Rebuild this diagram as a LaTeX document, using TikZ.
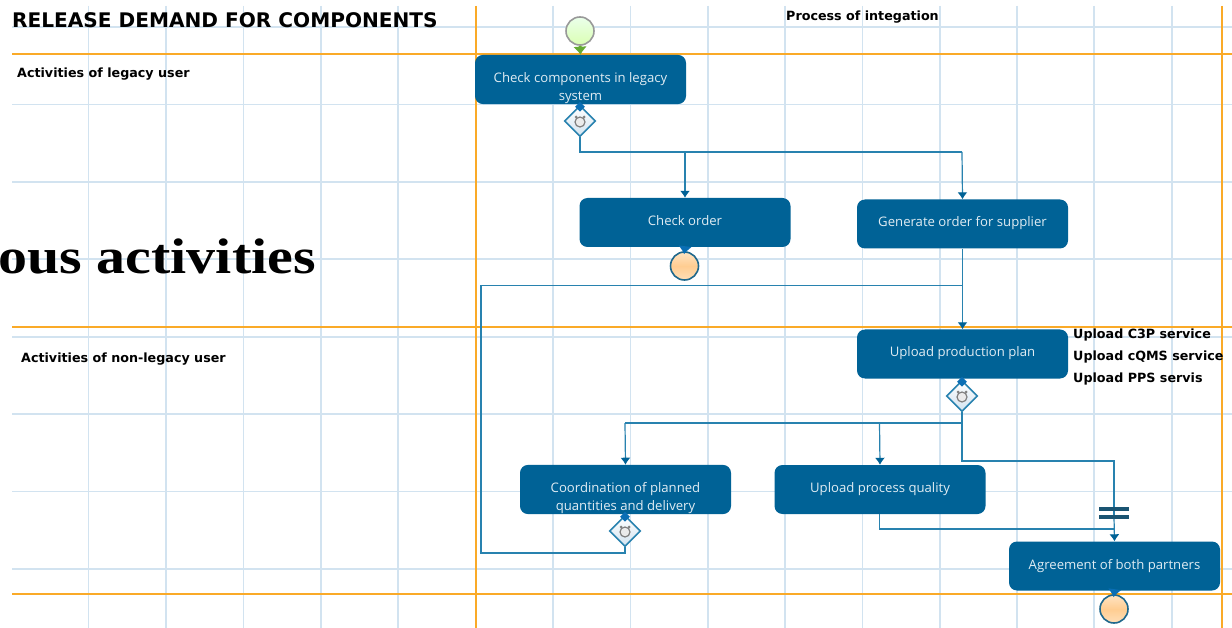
\documentclass[tikz,border=0pt]{standalone}
\usepackage{fontspec}
\usepackage{tikz}
\usetikzlibrary{shapes.geometric,arrows.meta}
\setmainfont{Open Sans}
\newfontfamily\labelfont{DejaVu Sans}
\newfontfamily\slidefont[FakeStretch=1.16]{Liberation Serif}
\definecolor{boxblue}{RGB}{0,98,150}
\definecolor{edgeblue}{RGB}{40,130,175}
\definecolor{tipblue}{RGB}{10,110,180}
\definecolor{gridblue}{RGB}{210,227,240}
\definecolor{laneorange}{RGB}{250,170,40}
\definecolor{startgreen}{RGB}{100,170,50}
\definecolor{endorange}{RGB}{255,205,145}
\begin{document}
\begin{tikzpicture}[x=1pt, y=-1pt,
		box_style/.style={rectangle,rounded corners=8pt,fill=boxblue,text=white!88!boxblue,minimum width=211pt,minimum height=49pt,inner sep=0pt,font=\fontsize{13.15}{18}\selectfont,align=center},
		single_style/.style={box_style,text height=10pt,text depth=4pt},
		edge_style/.style={draw=edgeblue,line width=1.2pt},
		arrow_style/.style={edge_style,-{Latex[width=10pt,length=7pt,fill=boxblue,color=boxblue]}},
		tip_style/.style={draw=tipblue,line width=2pt,-{Latex[width=14pt,length=8pt]},shorten >=-3pt},
		start_style/.style={circle,draw=black!40,line width=1.6pt,top color=green!8!white,bottom color=green!30!lime!30!white,minimum size=28pt,inner sep=0pt},
		end_style/.style={circle,draw=edgeblue!80!black,line width=1.6pt,top color=endorange!55!white,bottom color=endorange!65!white,middle color=endorange,minimum size=28pt,inner sep=0pt},
		decision_style/.style={diamond,aspect=1,draw=edgeblue,line width=1.6pt,top color=white,bottom color=gridblue,minimum size=31pt,inner sep=0pt},
		marker_style/.style={diamond,aspect=1,fill=tipblue,minimum size=10pt,inner sep=0pt},
		icon_style/.style={circle,draw=black!50,fill=black!8,line width=1.2pt,minimum size=10pt,inner sep=0pt},
		ear_style/.style={circle,fill=black!50,minimum size=3pt,inner sep=0pt},
		bar_style/.style={rectangle,fill=edgeblue!65!black,minimum width=30pt,minimum height=3.5pt,inner sep=0pt},
		label_style/.style={anchor=west,inner sep=0pt,font=\labelfont\bfseries\fontsize{12.7}{14}\selectfont}]

		\useasboundingbox (0,0) rectangle (1232,628);
		\fill[white] (0,0) rectangle (1232,628);

		% grid
		\foreach \gx in {88.5,166,243.5,321,398,553,630.5,708,785,862.5,940,1017,1094,1172}
			\draw[gridblue,line width=1.2pt] (\gx,6) -- (\gx,628);
		\foreach \gy in {27,104.5,182,259,337,414,491.5,569}
			\draw[gridblue,line width=1.2pt] (12,\gy) -- (1232,\gy);

		% lanes
		\draw[laneorange,line width=1.3pt] (12,54) -- (1232,54);
		\draw[laneorange,line width=1.3pt] (12,327) -- (1232,327);
		\draw[laneorange,line width=1.3pt] (12,594) -- (1232,594);
		\draw[laneorange,line width=1.3pt] (476,6) -- (476,628);
		\draw[laneorange,line width=1.3pt] (1222,6) -- (1222,628);

		% texts
		\node[label_style,font=\labelfont\bfseries\fontsize{20.1}{22}\selectfont] (title) at (12,20) {RELEASE DEMAND FOR COMPONENTS};
		\node[label_style] (process) at (786,17) {Process of integation};
		\node[label_style] (lane1) at (17,74) {Activities of legacy user};
		\node[label_style] (lane2) at (21,359) {Activities of non-legacy user};
		\node[anchor=east,inner sep=0pt,font=\slidefont\bfseries\fontsize{50}{52}\selectfont] (slide) at (316,256) {ous activities};
		\node[label_style] (svc1) at (1073,335) {Upload C3P service};
		\node[label_style] (svc2) at (1073,357) {Upload cQMS service};
		\node[label_style] (svc3) at (1073,379) {Upload PPS servis};

		% activities
		\node[start_style] (start) at (580,31) {};
		\node[box_style] (check) at (580.5,79.5) {\mbox{}\\[10pt]Check components in legacy\\system};
		\node[decision_style] (dec1) at (580,121) {};
		\node[single_style] (order) at (685,222.5) {Check order};
		\node[single_style] (gen) at (962.5,224) {Generate order for supplier};
		\node[end_style] (end1) at (684.5,266) {};
		\node[single_style] (plan) at (962.5,354) {Upload production plan};
		\node[decision_style] (dec2) at (962,396) {};
		\node[box_style] (coord) at (625.5,489.5) {\mbox{}\\[10pt]Coordination of planned\\quantities and delivery};
		\node[single_style] (quality) at (880,489.5) {Upload process quality};
		\node[decision_style] (dec3) at (625,531) {};
		\node[single_style] (agree) at (1114.5,566) {Agreement of both partners};
		\node[end_style] (end2) at (1114,609) {};
		\node[bar_style] (bar1) at (1114,509) {};
		\node[bar_style] (bar2) at (1114,517) {};

		% decision icons
		\foreach \dn in {dec1,dec2,dec3}{
			\node[ear_style] (\dn earl) at ([xshift=-4pt,yshift=4pt]\dn.center) {};
			\node[ear_style] (\dn earr) at ([xshift=4pt,yshift=4pt]\dn.center) {};
			\node[icon_style] (\dn icon) at ([yshift=-1pt]\dn.center) {};
			\node[marker_style] (\dn mark) at ([yshift=-2pt]\dn.north) {};
		}

		\coordinate (j0) at (580,152);
		\coordinate (j1) at (685,152);
		\coordinate (j2) at (962,152);
		\coordinate (j3) at (962,285.5);
		\coordinate (j4) at (481,285.5);
		\coordinate (j5) at (481,553);
		\coordinate (j6) at (625,553);
		\coordinate (j7) at (962,423);
		\coordinate (j8) at (879.5,423);
		\coordinate (j9) at (625,423);
		\coordinate (j10) at (962,461);
		\coordinate (j11) at (1114,461);
		\coordinate (j12) at (879.5,529);
		\coordinate (j13) at (1114,529);

		\draw[line width=3pt,-{Latex[width=14pt,length=8pt]},color=startgreen] (start.south) -- (check.north);
		\draw[edge_style] (dec1.south) -- (j0) -- (j2);
		\draw[arrow_style] (j1) -- (order.north);
		\draw[arrow_style] (j2) -- (gen.north);
		\draw[tip_style] (order.south) -- (end1.north);
		\draw[arrow_style] (gen.south) -- (plan.north);
		\draw[edge_style] (j3) -- (j4) -- (j5) -- (j6) -- (dec3.south);
		\draw[edge_style] (dec2.south) -- (j10) -- (j11) -- (bar1);
		\draw[edge_style] (j7) -- (j9);
		\draw[arrow_style] (j9) -- (coord.north);
		\draw[arrow_style] (j8) -- (quality.north);
		\draw[edge_style] (bar1) -- (bar2);
		\draw[arrow_style] (bar2) -- (agree.north);
		\draw[edge_style] (quality.south -| j12) -- (j12) -- (j13);
		\draw[tip_style] (agree.south) -- (end2.north);

		\end{tikzpicture}
\end{document}
